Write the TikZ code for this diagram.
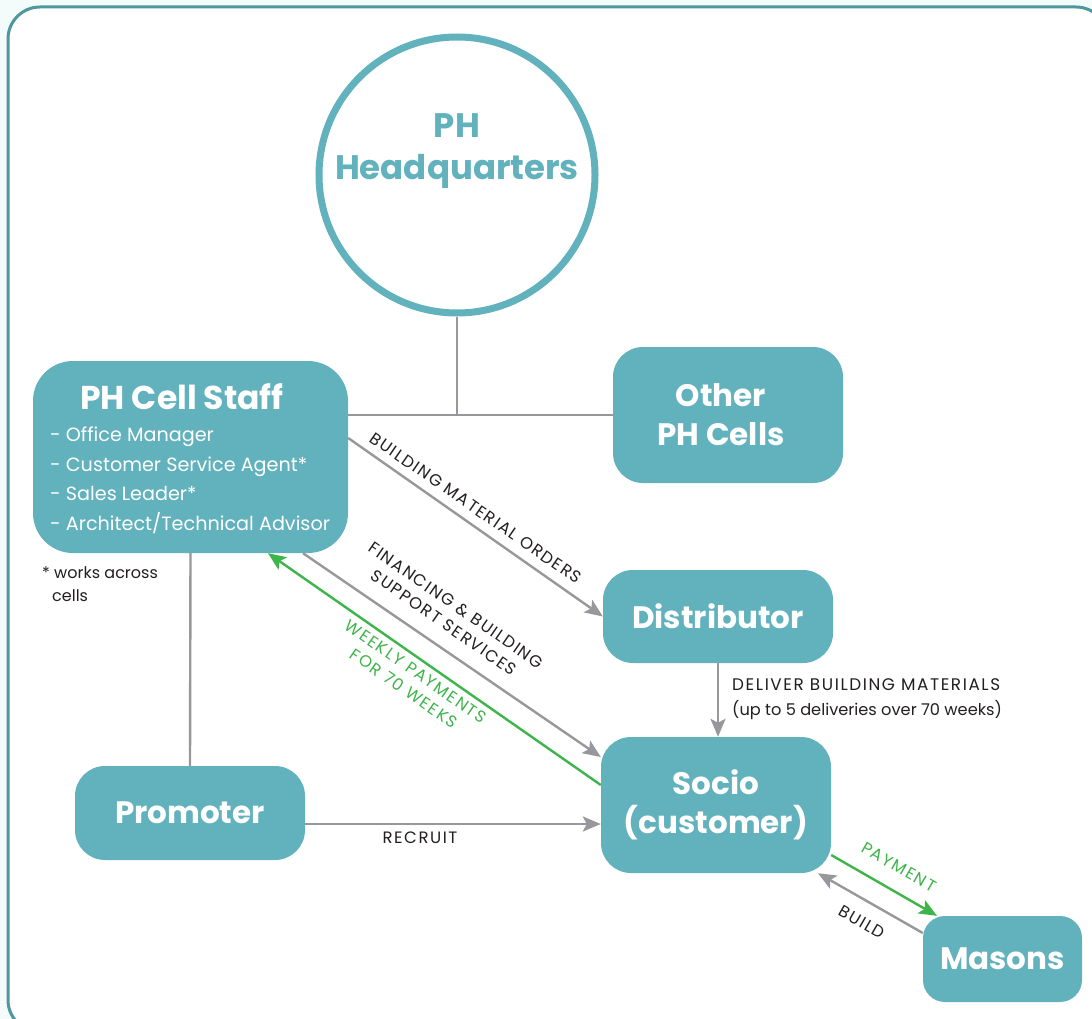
\documentclass[tikz,border=0pt]{standalone}
\usepackage{fontspec}
\setmainfont{Poppins}
\newfontfamily\capsfont[LetterSpace=9.5]{Poppins}
\usetikzlibrary{arrows.meta,calc}
\definecolor{teal1}{HTML}{62B2BD}
\definecolor{frame1}{HTML}{4F979E}
\definecolor{bg1}{HTML}{F4FBFB}
\definecolor{grey1}{HTML}{98989C}
\definecolor{green1}{HTML}{3DB54A}
\definecolor{ink}{HTML}{231F20}
\tikzset{
  box/.style={fill=teal1, rounded corners=30pt, text=white, align=center, inner sep=0pt,
    font=\bfseries\fontsize{31}{39}\selectfont},
  boxtext/.style={text=white, align=center, inner sep=0pt, font=\bfseries\fontsize{31}{39}\selectfont},
  conn/.style={draw=grey1, line width=2.4pt},
  arr/.style={conn, -{Stealth[length=18pt,width=15pt,inset=4pt]}},
  garr/.style={draw=green1, line width=2.4pt, -{Stealth[length=18pt,width=15pt,inset=4pt]}},
  lbl/.style={text=ink, font=\capsfont\fontsize{16.5}{21}\selectfont, align=center, inner sep=0pt},
  glbl/.style={lbl, text=green1},
}
\begin{document}
\begin{tikzpicture}[x=1pt,y=-1pt]
\fill[bg1] (0,0) rectangle (1092,1019);
\useasboundingbox (0,0) rectangle (1092,1019);
\draw[frame1, line width=3pt, fill=white, rounded corners=32pt] (8,7) rectangle (1108,1032);

% nodes
\node[circle, draw=teal1, line width=7pt, fill=white, minimum size=276pt, inner sep=0pt] (hq) at (457,175) {};
\node[text=teal1, align=center, inner sep=0pt, font=\bfseries\fontsize{34}{42}\selectfont] (hqt) at (457,151) {PH\\Headquarters};
\node[box, minimum width=315pt, minimum height=192pt, rounded corners=40pt] (staff) at (190.5,457) {};
\node[text=white, font=\bfseries\fontsize{33}{38}\selectfont, inner sep=0pt] (stafft) at (182,397) {PH Cell Staff};
\node[text=white, font=\fontsize{19.2}{29.5}\selectfont, align=left, anchor=north west, inner sep=0pt] (stafflist) at (50,427)
  {- Office Manager\\- Customer Service Agent*\\- Sales Leader*\\- Architect/Technical Advisor};
\node[text=ink, inner sep=0pt, align=left, anchor=north west, font=\fontsize{16}{23}\selectfont] (note) at (42,566) {* works across\\\hspace*{10pt}cells};
\node[box, minimum width=230pt, minimum height=136pt] (other) at (728,415) {};
\node[boxtext] (othert) at (721,415) {Other\\PH Cells};
\node[box, minimum width=230pt, minimum height=93pt] (dist) at (718,616.5) {Distributor};
\node[box, minimum width=230pt, minimum height=136pt] (socio) at (716,805) {Socio\\(customer)};
\node[box, minimum width=230pt, minimum height=94pt] (prom) at (190,813) {Promoter};
\node[box, minimum width=159pt, minimum height=86pt, rounded corners=22pt] (mas) at (1002.5,959) {Masons};

% connectors
\coordinate (j) at (hq.south |- other.west);
\draw[conn] (hq.south) -- (j);
\draw[conn] (staff.east |- other.west) -- (other.west);
\draw[conn] (staff.south) -- (prom.north);
\draw[arr] ([yshift=19pt]staff.east) -- (dist.west);
\draw[arr] ([xshift=112.5pt]staff.south) -- ([yshift=48pt]socio.west);
\draw[garr] ([yshift=20pt]socio.west) -- ([xshift=77.5pt]staff.south);
\draw[arr] (dist.south) -- (dist.south |- socio.north);
\draw[arr] ([yshift=-11pt]prom.east) -- ([yshift=-19pt]socio.west);
\draw[garr] ([yshift=-50pt]socio.east) -- ([xshift=-65.5pt]mas.north);
\draw[arr] ([yshift=26pt]mas.west) -- ([xshift=102pt]socio.south);

% labels
\node[lbl, rotate=-34.6] (l1) at (476,508) {BUILDING MATERIAL ORDERS};
\node[lbl, rotate=-34.7] (l2) at (450,614) {FINANCING \& BUILDING\\SUPPORT SERVICES};
\node[glbl, rotate=-34.9] (l3) at (410,680) {WEEKLY PAYMENTS\\FOR 70 WEEKS};
\node[lbl, anchor=north west, font=\capsfont\fontsize{16.8}{21}\selectfont] (l4) at (732,678) {DELIVER BUILDING MATERIALS};
\node[text=ink, inner sep=0pt, anchor=north west, font=\fontsize{16.2}{20}\selectfont] (l4b) at (732,700) {(up to 5 deliveries over 70 weeks)};
\node[lbl] (l5) at (420,838) {RECRUIT};
\node[glbl, rotate=-30] (l6) at (899,867) {PAYMENT};
\node[lbl, rotate=-30] (l7) at (862,922) {BUILD};
\end{tikzpicture}
\end{document}
